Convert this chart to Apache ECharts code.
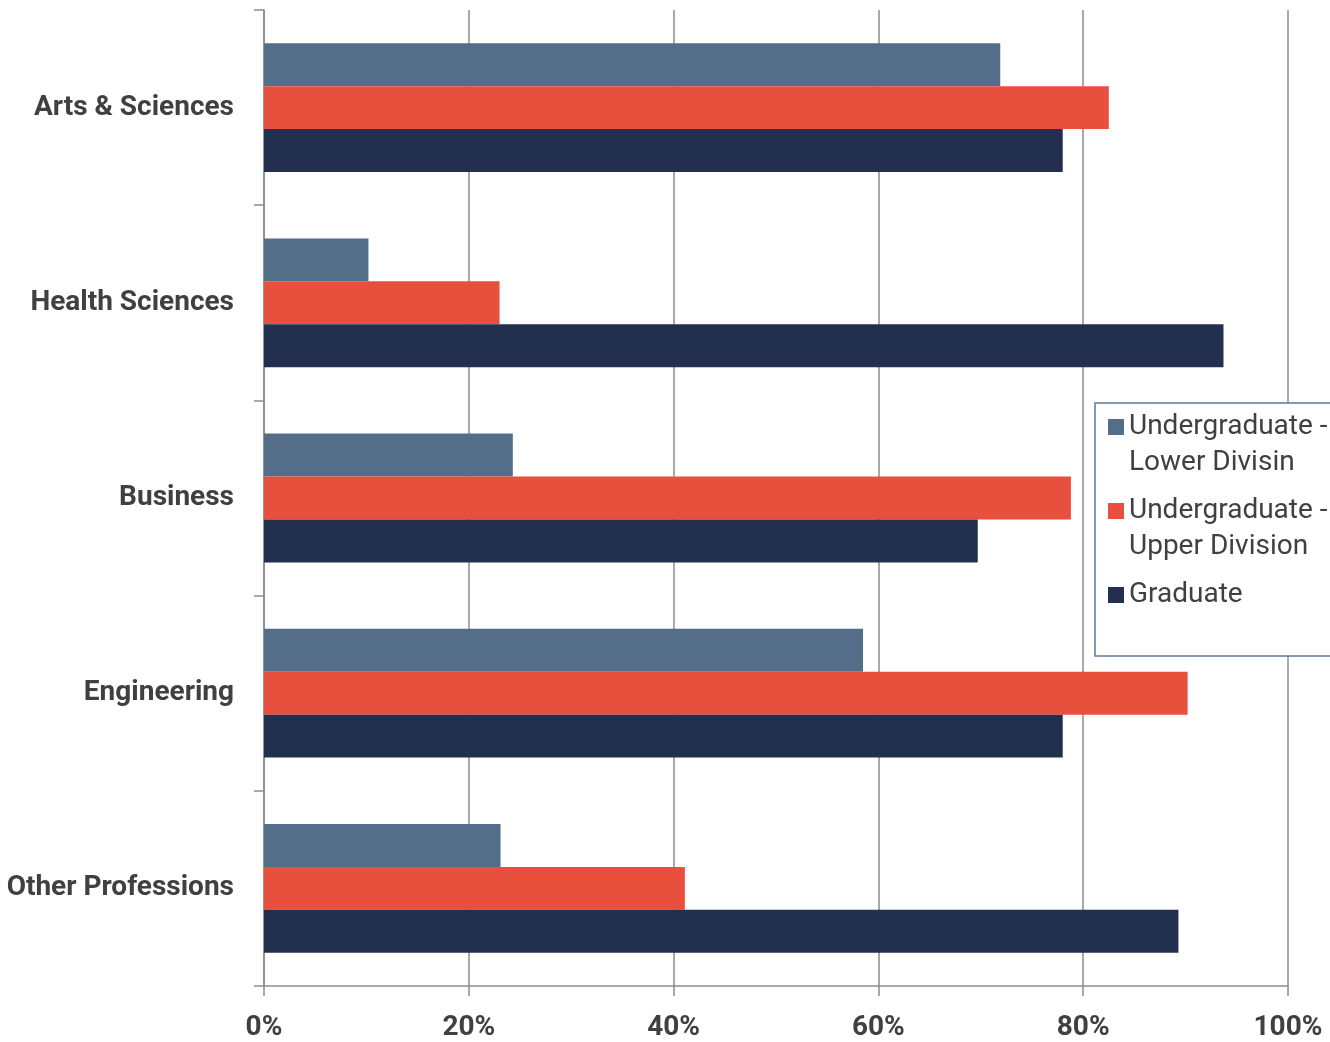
<!DOCTYPE html>
<html>
<head>
<meta charset="utf-8">
<script src="https://cdn.jsdelivr.net/npm/echarts@6/dist/echarts.min.js"></script>
<style>
html,body{margin:0;padding:0;background:#fff;}
#chart{width:1330px;height:1042px;}
</style>
</head>
<body>
<div id="chart"></div>
<script>
const categories = ['Arts & Sciences', 'Health Sciences', 'Business', 'Engineering', 'Other Professions'];
const seriesNames = ['Undergraduate - Lower Divisin', 'Undergraduate - Upper Division', 'Graduate'];
const lowerDivision = [71.9, 10.2, 24.3, 58.5, 23.1];
const upperDivision = [82.5, 23.0, 78.8, 90.2, 41.1];
const graduate = [78.0, 93.7, 69.7, 78.0, 89.3];
const xTicks = [0, 20, 40, 60, 80, 100];

const colors = ['#546e89', '#e94f3d', '#232f4f'];
const FONT = "Roboto, 'Liberation Sans', Arial, sans-serif";

const chart = echarts.init(document.getElementById('chart'), null, {renderer: 'canvas'});
const values = [lowerDivision, upperDivision, graduate];

chart.setOption({
  animation: false,
  backgroundColor: '#ffffff',
  grid: {left: 264, right: 42, top: 10, bottom: 56, containLabel: false, outerBoundsMode: 'none'},
  xAxis: {
    type: 'value', min: 0, max: 100, interval: 20,
    axisLine: {show: true, lineStyle: {color: '#8c8c8c', width: 1.5}},
    axisTick: {show: true, length: 10, lineStyle: {color: '#8c8c8c', width: 1.5}},
    splitLine: {show: true, lineStyle: {color: '#8c8c8c', width: 1.5}},
    axisLabel: {
      margin: 28, color: '#404040', fontFamily: FONT, fontWeight: 'bold', fontSize: 28,
      formatter: v => xTicks.indexOf(v) >= 0 ? v + '%' : ''
    }
  },
  yAxis: {
    type: 'category', data: categories, inverse: true,
    axisLine: {show: true, lineStyle: {color: '#8c8c8c', width: 1.5}},
    axisTick: {show: true, length: 10, lineStyle: {color: '#8c8c8c', width: 1.5}},
    axisLabel: {margin: 30, color: '#404040', fontFamily: FONT, fontWeight: 'bold', fontSize: 28, padding: [4, 0, 0, 0]}
  },
  legend: {
    orient: 'vertical', left: 1095, top: 403,
    padding: [-30, 10, 7, 13],
    itemGap: -24, itemWidth: 16, itemHeight: 16,
    backgroundColor: '#ffffff', borderColor: '#5d7a96', borderWidth: 1.5,
    icon: 'rect',
    textStyle: {color: '#404040', fontFamily: FONT, fontSize: 28, lineHeight: 36},
    formatter: n => n.indexOf(' - ') >= 0 ? '\n' + n.replace(' - ', ' -\n') : '\n' + n + '\n',
    data: seriesNames
  },
  series: seriesNames.map((name, i) => ({
    name: name, type: 'bar', data: values[i],
    barGap: '0%', barCategoryGap: '34%',
    itemStyle: {color: colors[i]}
  }))
});
</script>
</body>
</html>
